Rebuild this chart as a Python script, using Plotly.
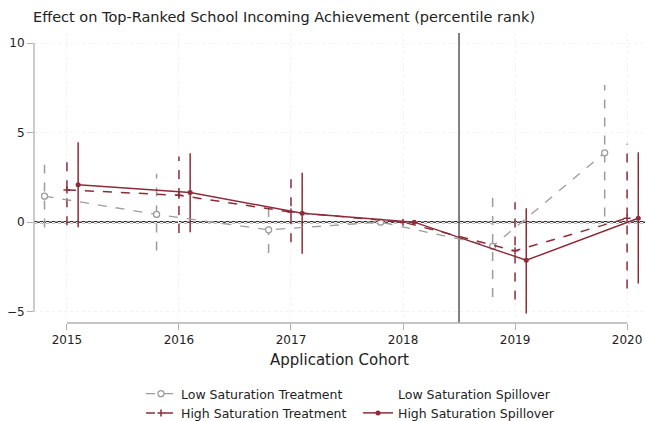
import plotly.graph_objects as go

# cohorts (x positions are offset a little per series, as in the original)
years = [2015, 2016, 2017, 2018, 2019, 2020]

low_treat_off = -0.2
low_treat = [1.45, 0.43, -0.43, 0.0, -1.35, 3.87]
low_treat_lo = [-0.30, -1.58, -1.73, None, -4.18, 0.32]
low_treat_hi = [3.20, 2.70, 1.02, None, 1.58, 7.65]

high_treat_off = 0.0
high_treat = [1.80, 1.50, 0.56, 0.0, -1.60, 0.22]
high_treat_lo = [-0.18, -0.61, -1.13, None, -4.32, -3.71]
high_treat_hi = [3.81, 3.66, 2.42, None, 1.11, 4.37]

high_spill_off = 0.1
high_spill = [2.08, 1.65, 0.50, 0.0, -2.13, 0.22]
high_spill_lo = [-0.28, -0.56, -1.76, None, -5.10, -3.43]
high_spill_hi = [4.46, 3.84, 2.75, None, 0.78, 3.90]

ytick_vals = [-5, 0, 5, 10]

red = "#8c2d3a"
grey = "#9c9c9c"
font = "DejaVu Sans"


def ci_segments(off, lo, hi):
    xs, ys = [], []
    for yr, a, b in zip(years, lo, hi):
        if a is None:
            continue
        xs += [yr + off, yr + off, None]
        ys += [a, b, None]
    return xs, ys


fig = go.Figure()

# confidence intervals (no legend entry)
for off, lo, hi, col, dash in [
    (low_treat_off, low_treat_lo, low_treat_hi, grey, "dash"),
    (high_treat_off, high_treat_lo, high_treat_hi, red, "dash"),
    (high_spill_off, high_spill_lo, high_spill_hi, red, "solid"),
]:
    cx, cy = ci_segments(off, lo, hi)
    fig.add_trace(go.Scatter(x=cx, y=cy, mode="lines", showlegend=False,
                             hoverinfo="skip",
                             line=dict(color=col, width=1.5, dash=dash)))

fig.add_trace(go.Scatter(
    x=[y + low_treat_off for y in years], y=low_treat, mode="lines+markers",
    name="Low Saturation Treatment",
    line=dict(color=grey, width=1.3, dash="dash"),
    marker=dict(symbol="circle", size=6, color="white",
                line=dict(width=1.3, color=grey))))
fig.add_trace(go.Scatter(
    x=[None], y=[None], mode="lines", name="Low Saturation Spillover",
    line=dict(color="rgba(0,0,0,0)", width=0)))
fig.add_trace(go.Scatter(
    x=[y + high_treat_off for y in years], y=high_treat, mode="lines+markers",
    name="High Saturation Treatment",
    line=dict(color=red, width=1.5, dash="dash"),
    marker=dict(symbol="cross-thin", size=5, color=red, line=dict(width=1.5, color=red))))
fig.add_trace(go.Scatter(
    x=[y + high_spill_off for y in years], y=high_spill, mode="lines+markers",
    name="High Saturation Spillover",
    line=dict(color=red, width=1.5),
    marker=dict(symbol="circle", size=5, color=red)))

# reference lines
fig.add_hline(y=0, line=dict(color="#444", width=1.5), layer="below")
fig.add_hline(y=0, line=dict(color="black", width=2, dash="dot"), layer="below")
fig.add_vline(x=2018.5, line=dict(color="#555", width=1.5), layer="below")

# Stata-style detached axis lines
fig.add_shape(type="line", xref="paper", yref="y", x0=0, x1=0, y0=-5, y1=10,
              line=dict(color="#b0b0b0", width=1.3))
fig.add_shape(type="line", xref="x", yref="paper", x0=2015, x1=2020, y0=0, y1=0,
              line=dict(color="#b0b0b0", width=1.3))

fig.update_layout(
    width=645, height=421,
    margin=dict(l=34, r=0, t=33, b=98, autoexpand=False),
    paper_bgcolor="white", plot_bgcolor="white",
    font=dict(family=font, size=12, color="#222"),
    title=dict(text="Effect on Top-Ranked School Incoming Achievement (percentile rank)",
               xref="container", yref="container", x=33 / 645, xanchor="left",
               y=1 - 17 / 421, yanchor="middle",
               font=dict(family=font, size=14.5, color="#222")),
    xaxis=dict(range=[2014.706, 2020.16], tickvals=years, ticks="outside",
               ticklen=6, tickcolor="#b0b0b0", showline=False, zeroline=False,
               showgrid=True, gridcolor="#f3f3f3", griddash="dot", automargin=False,
               title=dict(text="Application Cohort", font=dict(size=15), standoff=8),
               tickfont=dict(size=12)),
    yaxis=dict(range=[-5.631, 10.558], tickvals=ytick_vals, ticks="outside",
               ticklen=6, tickcolor="#b0b0b0", showline=False, zeroline=False,
               showgrid=True, gridcolor="#f3f3f3", griddash="dot", automargin=False,
               tickfont=dict(size=12)),
    legend=dict(orientation="h", xref="container", yref="container",
                x=141 / 645, xanchor="left", y=1 - 379 / 421, yanchor="top",
                entrywidth=172, font=dict(size=12.5), itemwidth=30,
                bgcolor="rgba(0,0,0,0)", tracegroupgap=0),
)

fig.write_html("out.html", config={"displayModeBar": False},
               post_script="document.body.style.margin='0';")
